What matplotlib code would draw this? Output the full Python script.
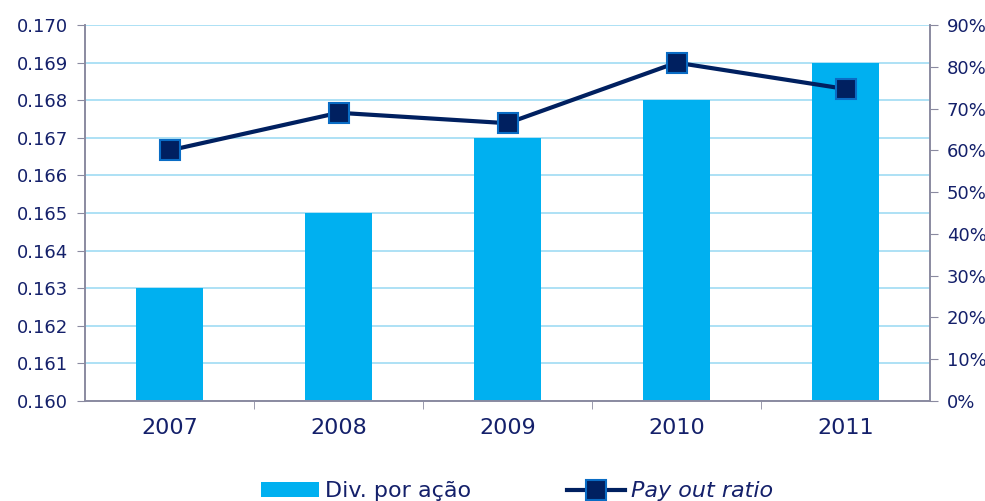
import matplotlib
matplotlib.use('Agg')
import matplotlib.pyplot as plt
from matplotlib.ticker import FuncFormatter, MultipleLocator

years = ['2007', '2008', '2009', '2010', '2011']
div_por_acao = [0.163, 0.165, 0.167, 0.168, 0.169]
payout_ratio = [60.0, 69.0, 66.5, 81.0, 74.7]

txt = '#14206a'
bar_c = '#00b0f0'
line_c = '#002060'
grid_c = '#9fdcf3'
spine_c = '#8a8aa0'

fig = plt.figure(figsize=(9.85, 5.01), dpi=100)
ax = fig.add_axes([0.0863, 0.1996, 0.8579, 0.7504])
ax2 = ax.twinx()

x = list(range(len(years)))
ax.bar(x, div_por_acao, width=0.4, color=bar_c, zorder=2, label='Div. por ação')
ax.set_ylim(0.160, 0.170)
ax.set_xlim(-0.5, 4.5)
ax.yaxis.set_major_locator(MultipleLocator(0.001))
ax.yaxis.set_major_formatter(FuncFormatter(lambda v, p: '%.3f' % v))
ax.grid(axis='y', color=grid_c, lw=1.2, zorder=0)
ax.set_axisbelow(True)

ax2.plot(x, payout_ratio, color=line_c, lw=3, marker='s', ms=14,
         mfc=line_c, mec='#0a6cc4', mew=1.5, zorder=3, label='Pay out ratio')
ax2.set_ylim(0, 90)
ax2.yaxis.set_major_locator(MultipleLocator(10))
ax2.yaxis.set_major_formatter(FuncFormatter(lambda v, p: '%d%%' % round(v)))

ax.set_xticks(x)
ax.set_xticklabels(years)
ax.set_xticks([0.5, 1.5, 2.5, 3.5], minor=True)
ax.tick_params(axis='x', which='major', length=0, pad=12, labelsize=16, labelcolor=txt)
ax.tick_params(axis='x', which='minor', length=6, color=spine_c, direction='out')
ax.tick_params(axis='y', length=6, color=spine_c, labelsize=13, labelcolor=txt, pad=6)
ax2.tick_params(axis='y', length=6, color=spine_c, labelsize=13, labelcolor=txt, pad=6)

for a in (ax, ax2):
    a.spines['top'].set_visible(False)
    for s in ('left', 'right', 'bottom'):
        a.spines[s].set_color(spine_c)
        a.spines[s].set_linewidth(1.2)

h1, l1 = ax.get_legend_handles_labels()
h2, l2 = ax2.get_legend_handles_labels()
leg = fig.legend(h1 + h2, l1 + l2, loc='upper center', bbox_to_anchor=(0.525, 0.057),
                 ncol=2, frameon=False, fontsize=16, handlelength=2.6,
                 handletextpad=0.3, columnspacing=4.3, borderaxespad=0)
for t in leg.get_texts():
    t.set_color(txt)
leg.get_texts()[1].set_fontstyle('italic')

fig.savefig('out.png', dpi=100)
